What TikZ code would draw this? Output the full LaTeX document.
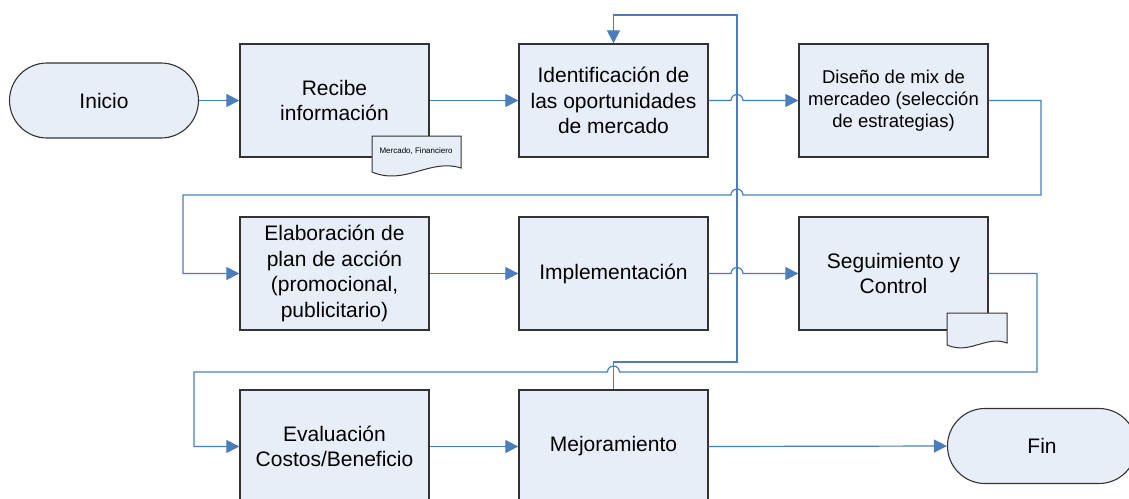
\documentclass[tikz,border=0pt]{standalone}
\usepackage{fontspec}
\setmainfont{Liberation Sans}
\usetikzlibrary{arrows.meta,shapes.misc,calc}
\definecolor{boxfill}{HTML}{E8EEF8}
\definecolor{conn}{HTML}{4A7EBB}
\definecolor{edge}{HTML}{333333}
\begin{document}
\begin{tikzpicture}[x=1pt,y=1pt,
  proc/.style={draw=edge, line width=1.3pt, fill=boxfill, minimum width=189pt, minimum height=113pt, inner sep=0pt, align=center, font=\fontsize{21}{25.5}\selectfont},
  term/.style={rounded rectangle, draw=edge, line width=1.1pt, fill=boxfill, minimum width=189pt, minimum height=75pt, inner sep=0pt, font=\fontsize{21}{25.5}\selectfont},
  flow/.style={draw=conn, line width=1.2pt},
  arr/.style={-{Triangle[length=13pt,width=13pt]}},
  docshape/.style={draw=edge, line width=1pt, fill=boxfill}]
\clip (0,0) rectangle (1129,-498);
\fill[white] (0,0) rectangle (1129,-498);
% nodes
\node[term] (inicio) at (104,-100.5) {Inicio};
\node[proc] (recibe) at (334.5,-100.5) {Recibe\\información};
\node[proc] (ident) at (613.5,-100.5) {Identificación de\\las oportunidades\\de mercado};
\node[proc, font=\fontsize{18.5}{22}\selectfont] (diseno) at (893.5,-100.5) {Diseño de mix de\\mercadeo (selección\\de estrategias)};
\node[proc] (elab) at (334.5,-273.5) {Elaboración de\\plan de acción\\(promocional,\\publicitario)};
\node[proc] (impl) at (613.5,-273.5) {Implementación};
\node[proc] (seg) at (893.5,-273.5) {Seguimiento y\\Control};
\node[proc] (eval) at (334.5,-446.5) {Evaluación\\Costos/Beneficio};
\node[proc] (mejora) at (613.5,-446.5) {Mejoramiento};
\node[term] (fin) at (1042,-446) {Fin};
% documents
\draw[docshape] (372,-136) -- (461,-136) -- (461,-168) .. controls (430,-158) and (405,-186) .. (372,-172) -- cycle;
\node[font=\fontsize{8}{9.6}\selectfont, inner sep=0pt] (doctext) at (416,-151) {Mercado, Financiero};
\draw[docshape] (947,-313) -- (1007,-313) -- (1007,-343) .. controls (986,-335) and (970,-355) .. (947,-345) -- cycle;
% helper coordinates
\coordinate (vx) at (737,0);
\coordinate (ty) at (0,-15);
\coordinate (my) at (0,-362);
\coordinate (rx1) at (1041,0);
\coordinate (ly1) at (0,-195);
\coordinate (lx1) at (183,0);
\coordinate (rx2) at (1037,0);
\coordinate (ly2) at (0,-372);
\coordinate (lx2) at (194,0);
% connectors
\draw[flow,arr] (inicio.east) -- (recibe.west);
\draw[flow,arr] (recibe.east) -- (ident.west);
\draw[flow,arr] (ident.east) -- ($(vx |- ident.east)+(-6,0)$) arc[start angle=180,end angle=0,radius=6] -- (diseno.west);
\draw[flow,arr] (diseno.east) -- (diseno.east -| rx1) -- (rx1 |- ly1) -- ($(vx |- ly1)+(6,0)$) arc[start angle=0,end angle=180,radius=6] -- (lx1 |- ly1) -- (lx1 |- elab.west) -- (elab.west);
\draw[flow,arr] (elab.east) -- (impl.west);
\draw[flow,arr] (impl.east) -- ($(vx |- impl.east)+(-6,0)$) arc[start angle=180,end angle=0,radius=6] -- (seg.west);
\draw[flow,arr] (seg.east) -- (seg.east -| rx2) -- (rx2 |- ly2) -- ($(mejora.north |- ly2)+(6,0)$) arc[start angle=0,end angle=180,radius=6] -- (lx2 |- ly2) -- (lx2 |- eval.west) -- (eval.west);
\draw[flow,arr] (eval.east) -- (mejora.west);
\draw[flow,arr] (mejora.east) -- (fin.west);
\draw[flow,arr] (mejora.north) -- (mejora.north |- my) -- (vx |- my) -- (vx |- ty) -- (ident.north |- ty) -- (ident.north);
\end{tikzpicture}
\end{document}
